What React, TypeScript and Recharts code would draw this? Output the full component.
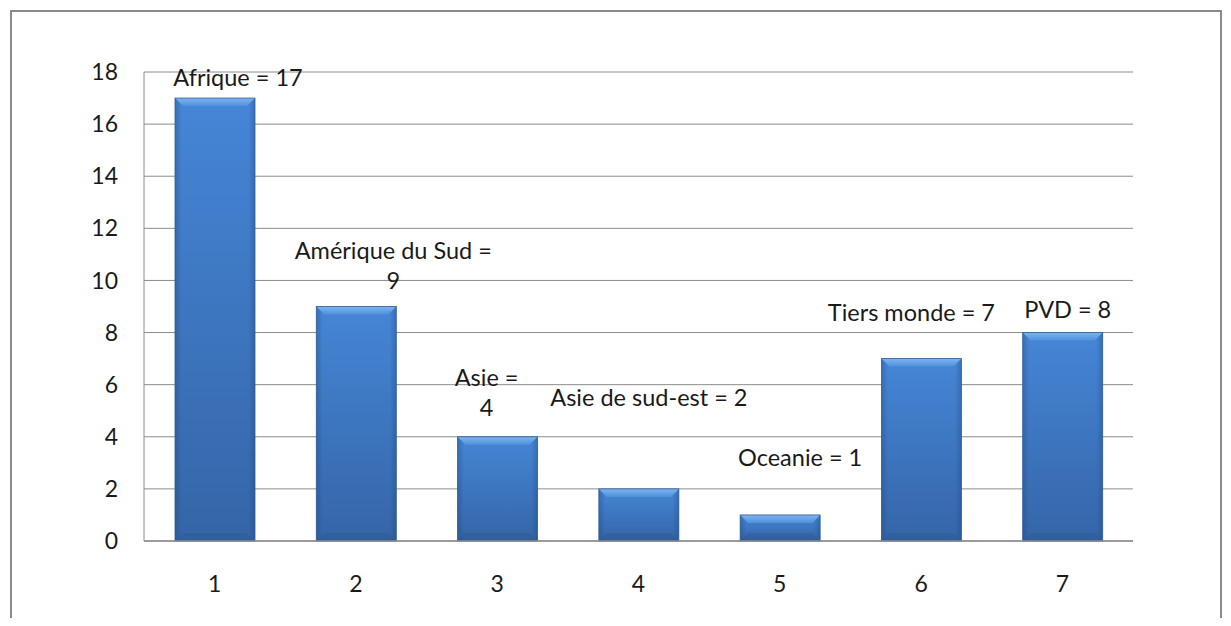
import React from "react"
import { BarChart, Bar, XAxis, YAxis, CartesianGrid, LabelList } from "recharts"

const categories = ["1", "2", "3", "4", "5", "6", "7"]
const values = [17, 9, 4, 2, 1, 7, 8]
const labelLines = [
  ["Afrique = 17"],
  ["Amérique du Sud =", "9"],
  ["Asie =", "4"],
  ["Asie de sud-est = 2"],
  ["Oceanie = 1"],
  ["Tiers monde = 7"],
  ["PVD = 8"],
]
const yTicks = [0, 2, 4, 6, 8, 10, 12, 14, 16, 18]

// where each label sits relative to the top centre of its bar
const labelOffsets = [
  { dx: 23, dy: -21 },
  { dx: 37, dy: -56 },
  { dx: -11, dy: -59 },
  { dx: 10, dy: -91 },
  { dx: 20, dy: -57 },
  { dx: -10, dy: -46 },
  { dx: 5, dy: -23 },
]

const data = categories.map((c, i) => ({ cat: c, value: values[i] }))

const FONT = "Lato, 'Open Sans', sans-serif"
const GRID = "#8c8c8c"
const TEXT = "#1a1a1a"

function BevelBar(props: any) {
  const { x, y, width, height } = props
  if (!height || height <= 0) return null
  const b = Math.min(8, height / 2)
  return (
    <g>
      <rect x={x} y={y} width={width} height={height} fill="url(#barBody)" />
      <rect x={x} y={y} width={width} height={height} fill="url(#barSides)" />
      <polygon
        points={`${x},${y} ${x + width},${y} ${x + width - b},${y + b} ${x + b},${y + b}`}
        fill="url(#barTop)"
      />
      <polygon
        points={`${x},${y + height} ${x + width},${y + height} ${x + width - b},${y + height - b} ${x + b},${y + height - b}`}
        fill="#2c5890"
        opacity={0.45}
      />
      <rect x={x} y={y} width={width} height={height} fill="none" stroke="#2f5e9a" strokeWidth={0.8} />
    </g>
  )
}

function BarLabel(props: any) {
  const { x, y, width, index } = props
  const off = labelOffsets[index]
  const lines = labelLines[index]
  const cx = x + width / 2 + off.dx
  const cy = y + off.dy
  return (
    <text x={cx} y={cy} textAnchor="middle" fontFamily={FONT} fontSize={23.5} fill={TEXT}>
      {lines.map((l, k) => (
        <tspan key={k} x={cx} dy={k === 0 ? 8.5 : 30}>
          {l}
        </tspan>
      ))}
    </text>
  )
}

export default function App() {
  return (
    <div style={{ position: "relative", width: 1215, height: 610, overflow: "hidden" }}>
      <div
        style={{
          position: "absolute",
          left: 2,
          top: 2,
          width: 1208,
          height: 700,
          border: "2px solid #8a8a8a",
        }}
      />
      <div style={{ position: "absolute", left: 0, top: 0 }}>
        <BarChart
          width={1215}
          height={610}
          data={data}
          margin={{ top: 64, right: 90, bottom: 47, left: 76 }}
          barSize={80}
        >
          <defs>
            <linearGradient id="barBody" x1="0" y1="0" x2="0" y2="1">
              <stop offset="0%" stopColor="#4586d6" />
              <stop offset="100%" stopColor="#3565a8" />
            </linearGradient>
            <linearGradient id="barSides" x1="0" y1="0" x2="1" y2="0">
              <stop offset="0%" stopColor="#1e4478" stopOpacity={0.35} />
              <stop offset="8%" stopColor="#1e4478" stopOpacity={0} />
              <stop offset="92%" stopColor="#1e4478" stopOpacity={0} />
              <stop offset="100%" stopColor="#1e4478" stopOpacity={0.35} />
            </linearGradient>
            <linearGradient id="barTop" x1="0" y1="0" x2="0" y2="1">
              <stop offset="0%" stopColor="#7db4ee" />
              <stop offset="100%" stopColor="#4f91de" />
            </linearGradient>
          </defs>
          <CartesianGrid vertical={false} stroke={GRID} strokeWidth={1} />
          <XAxis
            dataKey="cat"
            axisLine={{ stroke: GRID, strokeWidth: 1.5 }}
            tickLine={false}
            height={30}
            tick={{ fontSize: 23, fontFamily: FONT, fill: TEXT, dy: 27 }}
          />
          <YAxis
            domain={[0, 18]}
            ticks={yTicks}
            width={60}
            axisLine={{ stroke: GRID, strokeWidth: 1 }}
            tickLine={false}
            tickMargin={20}
            tick={{ fontSize: 23, fontFamily: FONT, fill: TEXT }}
          />
          <Bar dataKey="value" shape={<BevelBar />} isAnimationActive={false}>
            <LabelList dataKey="value" content={<BarLabel />} />
          </Bar>
        </BarChart>
      </div>
    </div>
  )
}
